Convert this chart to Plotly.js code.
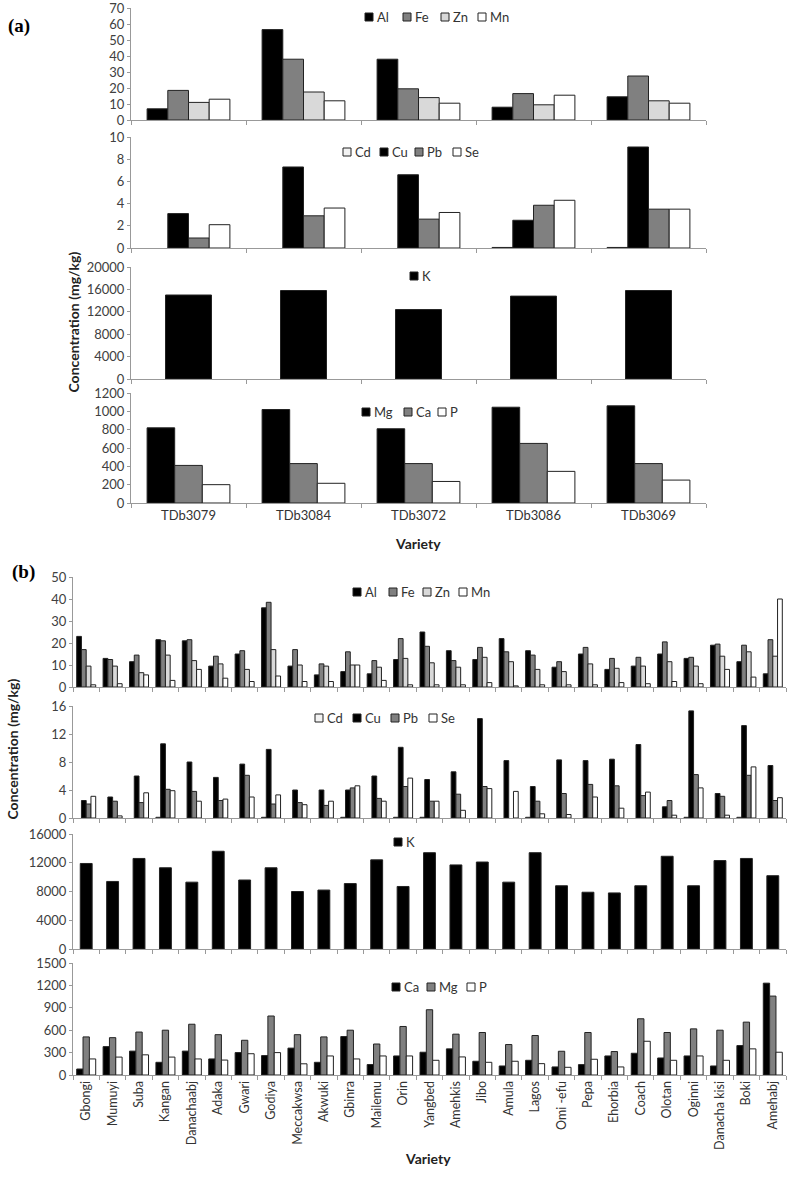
<!DOCTYPE html>
<html>
<head>
<meta charset="utf-8">
<script src="https://cdn.plot.ly/plotly-3.0.1.min.js"></script>
<style>
  body { margin: 0; background: #fff; }
  #chart { width: 788px; height: 1178px; }
</style>
</head>
<body>
<div id="chart"></div>
<script>
// panel (a) - five varieties
var varietiesA = ["TDb3079", "TDb3084", "TDb3072", "TDb3086", "TDb3069"];
var alA = [7, 56.5, 38, 8, 14.5];
var feA = [18.5, 38, 19.5, 16.5, 27.5];
var znA = [11, 17.5, 14, 9.5, 12];
var mnA = [13, 12, 10.5, 15.5, 10.5];
var cdA = [null, null, null, 0.05, 0.05];
var cuA = [3.1, 7.3, 6.6, 2.5, 9.1];
var pbA = [0.9, 2.9, 2.6, 3.85, 3.5];
var seA = [2.1, 3.6, 3.2, 4.3, 3.5];
var kA = [15000, 15800, 12400, 14800, 15800];
var mgA = [820, 1020, 810, 1045, 1060];
var caA = [410, 430, 430, 650, 430];
var pA = [200, 215, 235, 345, 250];

// panel (b) - 27 varieties
var varietiesB = ["Gbongi", "Mumuyi", "Suba", "Kangan", "Danachaabj", "Adaka", "Gwari",
  "Godiya", "Meccakwsa", "Akwuki", "Gbinra", "Mailemu", "Orin", "Yangbed", "Amehkis",
  "Jibo", "Amula", "Lagos", "Omi -efu", "Pepa", "Ehorbia", "Coach", "Olotan", "Oginni",
  "Danacha kisi", "Boki", "Amehabj"];
var alB = [23, 13, 11.5, 21.5, 21, 9.5, 15, 36, 9.5, 5.5, 7, 6, 12.5, 25, 16.5,
  12.5, 22, 16.5, 9, 15, 8, 9.5, 15, 13, 19, 11.5, 6];
var feB = [17, 12.5, 14.5, 21, 21.5, 14, 16.5, 38.5, 17, 10.5, 16, 12, 22, 18.5, 12,
  18, 16, 14.5, 11.5, 18, 13, 13.5, 20.5, 13.5, 19.5, 19, 21.5];
var znB = [9.5, 9.5, 6.5, 14.5, 12, 10.5, 8, 17, 10, 9.5, 10, 9, 13, 11, 9,
  13.5, 11.5, 8, 7, 10.5, 8.5, 9.5, 11.5, 9.5, 14, 16, 14];
var mnB = [1, 1.5, 5.5, 3, 8, 4, 2.5, 5, 2.5, 2.5, 10, 3, 1, 1, 1,
  2, 0.5, 1, 1, 1, 2, 1.5, 2.5, 1.5, 8, 4.5, 40];
var cdB = [null, null, null, 0.1, null, null, null, 0.1, null, null, 0.1, null, 0.1, 0.1, null,
  null, null, 0.1, null, null, null, null, null, 0.1, null, 0.1, null];
var cuB = [2.5, 3, 6, 10.6, 8, 5.8, 7.7, 9.8, 4, 4, 4, 6, 10.1, 5.5, 6.6,
  14.2, 8.2, 4.5, 8.3, 8.2, 8.4, 10.5, 1.6, 15.3, 3.5, 13.2, 7.5];
var pbB = [2, 2.4, 2.2, 4.1, 3.8, 2.5, 6.1, 2, 2.2, 1.8, 4.3, 2.8, 4.5, 2.4, 3.4,
  4.5, null, 2.4, 3.5, 4.8, 4.6, 3.2, 2.5, 6.2, 3.1, 6.1, 2.5];
var seB = [3.1, 0.3, 3.6, 3.9, 2.4, 2.7, 3, 3.3, 1.9, 2.4, 4.6, 2.4, 5.7, 2.4, 1.1,
  4.2, 3.8, 0.6, 0.5, 3, 1.4, 3.7, 0.4, 4.3, 0.4, 7.3, 2.9];
var kB = [11900, 9400, 12600, 11300, 9300, 13600, 9600, 11300, 8000, 8200, 9100, 12400,
  8700, 13400, 11700, 12100, 9300, 13400, 8800, 7900, 7800, 8800, 12900, 8800, 12300,
  12600, 10200];
var caB = [80, 380, 320, 170, 320, 215, 300, 260, 360, 170, 515, 140, 255, 305, 350,
  184, 121, 197, 108, 139, 255, 291, 228, 255, 121, 394, 1230];
var mgB = [510, 500, 575, 600, 680, 540, 465, 790, 540, 510, 600, 415, 650, 874, 547,
  569, 408, 529, 318, 569, 314, 753, 569, 618, 600, 708, 1057];
var pB = [215, 240, 270, 240, 215, 200, 285, 300, 150, 255, 215, 255, 255, 197, 242,
  170, 184, 152, 103, 211, 108, 452, 197, 255, 197, 350, 305];

var BLACK = "#000000", GREY = "#808080", LIGHT = "#d9d9d9", PALE = "#f2f2f2", WHITE = "#ffffff";

var H = 1178, W = 788;
function py(v) { return 1 - v / H; }
function px(v) { return v / W; }

var fontFam = "Lato, 'Open Sans', sans-serif";
var tickFont = {family: fontFam, size: 13, color: "#404040"};
var layout = {
  width: W, height: H,
  margin: {l: 0, r: 0, t: 0, b: 0},
  paper_bgcolor: "#fff", plot_bgcolor: "#fff",
  showlegend: false,
  barmode: "group", bargap: 0.28, bargroupgap: 0,
  font: {family: fontFam, size: 12, color: "#222"},
  shapes: [],
  annotations: [
    {text: "<b>(a)</b>", x: px(6), y: py(13), xref: "paper", yref: "paper", xanchor: "left",
      showarrow: false, font: {family: "'Liberation Serif', serif", size: 19, color: "#000"}},
    {text: "<b>(b)</b>", x: px(10), y: py(572), xref: "paper", yref: "paper", xanchor: "left",
      showarrow: false, font: {family: "'Liberation Serif', serif", size: 19, color: "#000"}},
    {text: "<b>Variety</b>", x: px(418), y: py(543), xref: "paper", yref: "paper",
      showarrow: false, font: {size: 14, color: "#222"}},
    {text: "<b>Variety</b>", x: px(428), y: py(1169), xref: "paper", yref: "paper",
      showarrow: false, font: {size: 14, color: "#222"}},
    {text: "<b>Concentration (mg/kg)</b>", x: px(73), y: py(250), xref: "paper", yref: "paper",
      xanchor: "center", textangle: -90, showarrow: false, font: {size: 14, color: "#222"}},
    {text: "<b>Concentration (mg/kg)</b>", x: px(12), y: py(822), xref: "paper", yref: "paper",
      xanchor: "center", textangle: -90, showarrow: false, font: {size: 14, color: "#222"}}
  ]
};

// compact Excel-style keys: small outlined square + series name (left x, centre y in px)
function addKey(name, color, kx, ky) {
  layout.shapes.push({
    type: "rect", xref: "paper", yref: "paper",
    x0: px(kx), x1: px(kx + 8), y0: py(ky + 4), y1: py(ky - 4),
    fillcolor: color, line: {color: "#222", width: 1}
  });
  layout.annotations.push({
    text: name, x: px(kx + 10), y: py(ky), xref: "paper", yref: "paper",
    xanchor: "left", yanchor: "middle", showarrow: false,
    font: {family: fontFam, size: 13, color: "#333"}
  });
}

var data = [];
function addBar(name, x, y, color, n, keyX, keyY, width) {
  var t = {
    type: "bar", name: name, x: x, y: y,
    xaxis: "x" + (n === 1 ? "" : n), yaxis: "y" + (n === 1 ? "" : n),
    marker: {color: color, line: {color: "#222", width: 1}},
    hoverinfo: "x+y+name", showlegend: false
  };
  if (width) t.width = width;
  data.push(t);
  addKey(name, color, keyX, keyY);
}

addBar("Al", varietiesA, alA, BLACK, 1, 365, 17);
addBar("Fe", varietiesA, feA, GREY, 1, 403, 17);
addBar("Zn", varietiesA, znA, LIGHT, 1, 441, 17);
addBar("Mn", varietiesA, mnA, WHITE, 1, 478, 17);
addBar("Cd", varietiesA, cdA, PALE, 2, 343, 152);
addBar("Cu", varietiesA, cuA, BLACK, 2, 380, 152);
addBar("Pb", varietiesA, pbA, GREY, 2, 415, 152);
addBar("Se", varietiesA, seA, WHITE, 2, 453, 152);
addBar("K", varietiesA, kA, BLACK, 3, 410, 276, 0.4);
addBar("Mg", varietiesA, mgA, BLACK, 4, 362, 412);
addBar("Ca", varietiesA, caA, GREY, 4, 404, 412);
addBar("P", varietiesA, pA, WHITE, 4, 438, 412);

addBar("Al", varietiesB, alB, BLACK, 5, 353, 592);
addBar("Fe", varietiesB, feB, GREY, 5, 389, 592);
addBar("Zn", varietiesB, znB, LIGHT, 5, 423, 592);
addBar("Mn", varietiesB, mnB, WHITE, 5, 459, 592);
addBar("Cd", varietiesB, cdB, PALE, 6, 315, 718);
addBar("Cu", varietiesB, cuB, BLACK, 6, 353, 718);
addBar("Pb", varietiesB, pbB, GREY, 6, 391, 718);
addBar("Se", varietiesB, seB, WHITE, 6, 429, 718);
addBar("K", varietiesB, kB, BLACK, 7, 394, 842, 0.45);
addBar("Ca", varietiesB, caB, BLACK, 8, 392, 987);
addBar("Mg", varietiesB, mgB, GREY, 8, 427, 987);
addBar("P", varietiesB, pB, WHITE, 8, 467, 987);

// vertical placement of each subplot, in page pixels (top, bottom)
var rows = [[8, 120], [137, 248], [267, 379], [393, 503],
            [577, 687], [706, 818], [834, 949], [963, 1075]];
var yRanges = [[0, 70.01], [0, 10], [0, 20000], [0, 1200],
               [0, 50], [0, 16], [0, 16000], [0, 1500]];
var yDtick = [10, 2, 4000, 200, 10, 4, 4000, 300];

for (var i = 0; i < 8; i++) {
  var n = i + 1;
  var isA = i < 4;
  var sfx = n === 1 ? "" : n;
  layout["xaxis" + sfx] = {
    domain: isA ? [px(131), px(706)] : [px(73), px(786)],
    anchor: "y" + sfx,
    showline: true, linecolor: "#999", linewidth: 1,
    ticks: "outside", ticklen: 4, tickcolor: "#999", tickson: "boundaries",
    showgrid: false, zeroline: false,
    showticklabels: i === 3 || i === 7,
    tickangle: i === 7 ? -90 : 0,
    tickfont: {family: fontFam, size: isA ? 13 : 12.5, color: "#333"},
    fixedrange: true
  };
  layout["yaxis" + sfx] = {
    domain: [py(rows[i][1]), py(rows[i][0])],
    anchor: "x" + sfx,
    range: yRanges[i], dtick: yDtick[i], tick0: 0, tickformat: "d",
    showline: true, linecolor: "#999", linewidth: 1,
    ticks: "outside", ticklen: 3, tickcolor: "#999",
    showgrid: false, zeroline: false, ticklabeloverflow: "allow",
    tickfont: tickFont,
    fixedrange: true
  };
}

Plotly.newPlot("chart", data, layout, {displayModeBar: false, staticPlot: true});
</script>
</body>
</html>
